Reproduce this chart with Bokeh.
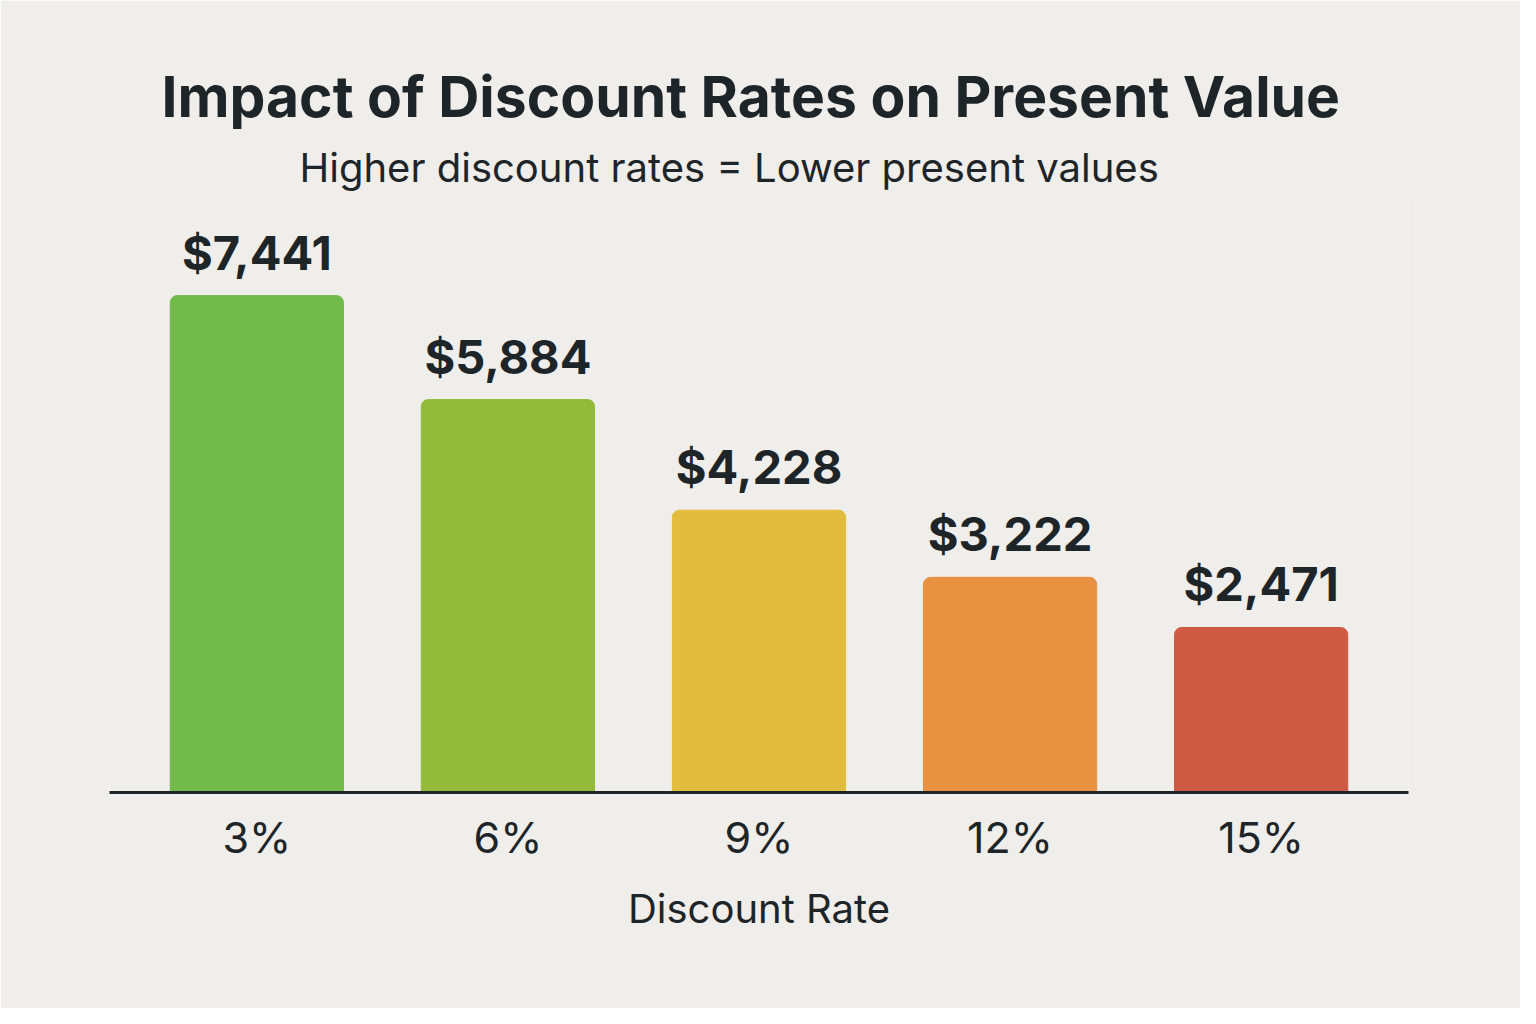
from bokeh.plotting import figure
from bokeh.models import ColumnDataSource, FactorRange, Range1d, Title
from bokeh.core.properties import value
from bokeh.embed import file_html
from bokeh.resources import INLINE

rates = ["3%", "6%", "9%", "12%", "15%"]
present_values = [7441, 5884, 4228, 3222, 2471]
labels = ["$7,441", "$5,884", "$4,228", "$3,222", "$2,471"]
colors = ["#72BA4A", "#93BA38", "#E2BC3E", "#E79141", "#D05B45"]

BG = "#EFEEEA"
INK = "#1E2529"
FONT = "Inter"

src = ColumnDataSource(dict(rate=rates, pv=present_values, label=labels, color=colors))

p = figure(
    width=1520, height=1008,
    x_range=FactorRange(*rates, range_padding=0.087, range_padding_units="absolute"),
    y_range=Range1d(0, 8850),
    output_backend="svg", toolbar_location=None,
    background_fill_color=BG, border_fill_color=BG,
    min_border_left=109, min_border_right=112,
    min_border_bottom=216, min_border_top=201,
)
p.outline_line_color = None
p.grid.grid_line_color = None
p.yaxis.visible = False

p.vbar(x="rate", top="pv", width=0.69, bottom=0, source=src,
       fill_color="color", line_color="color", line_width=1,
       border_radius=(7, 7, 0, 0))

p.text(x="rate", y="pv", text="label", source=src,
       text_align="center", text_baseline="bottom", y_offset=-15,
       text_font=value(FONT), text_font_style="bold", text_font_size="47px",
       text_color=INK)

xa = p.xaxis[0]
xa.axis_line_color = INK
xa.axis_line_width = 3
xa.major_tick_line_color = None
xa.minor_tick_line_color = None
xa.major_label_text_font = FONT
xa.major_label_text_font_size = "43px"
xa.major_label_text_font_style = "normal"
xa.major_label_text_color = INK
xa.major_label_standoff = 12
xa.axis_label = "Discount Rate"
xa.axis_label_text_font = FONT
xa.axis_label_text_font_size = "40px"
xa.axis_label_text_font_style = "normal"
xa.axis_label_text_color = INK
xa.axis_label_standoff = 18

p.add_layout(Title(text="Higher discount rates = Lower present values", align="left",
                   text_font=FONT, text_font_size="40px", text_font_style="normal",
                   text_color=INK, offset=190, standoff=20), "above")
p.add_layout(Title(text="Impact of Discount Rates on Present Value", align="left",
                   text_font=FONT, text_font_size="57px", text_font_style="bold",
                   text_color=INK, offset=52, standoff=0), "above")

open("out.html", "w").write(file_html(p, INLINE))
